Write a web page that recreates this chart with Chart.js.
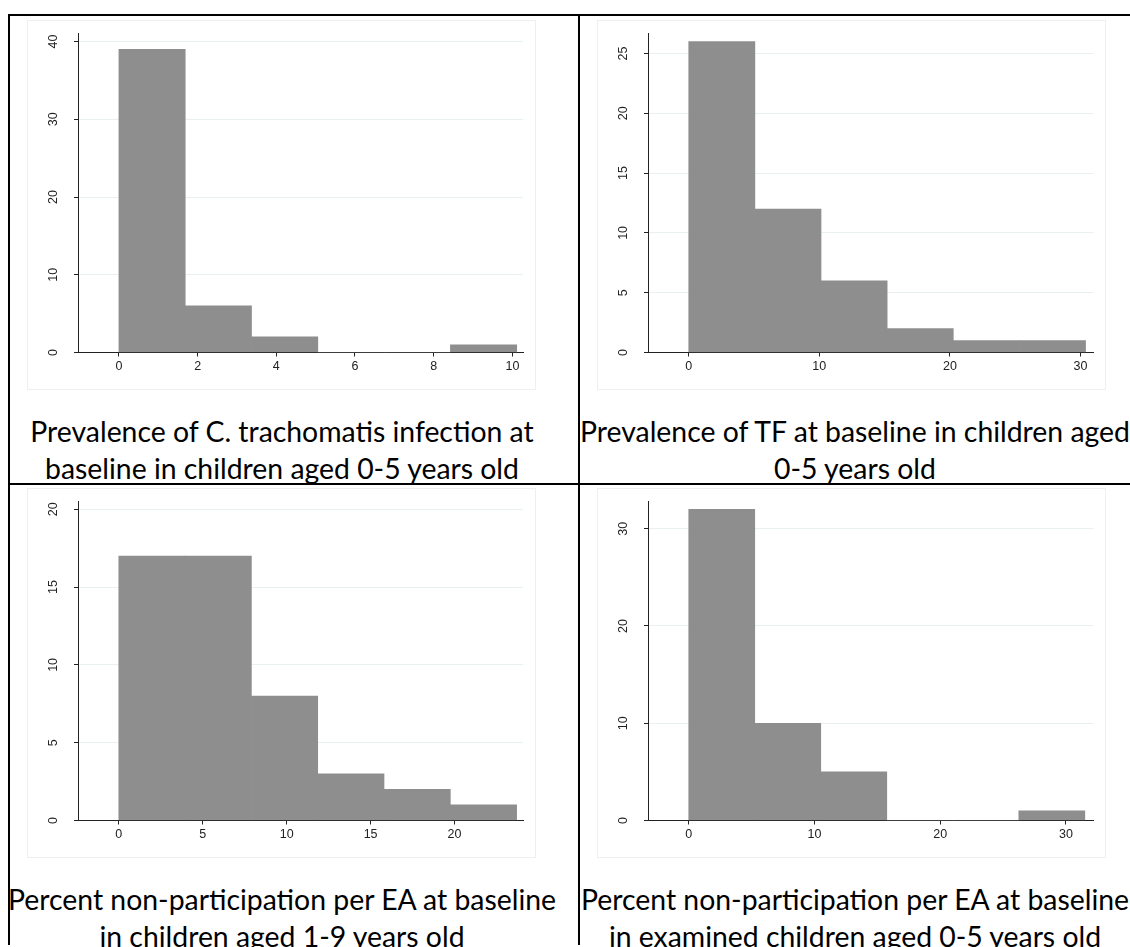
<!DOCTYPE html>
<html>
<head>
<meta charset="utf-8">
<script src="https://cdn.jsdelivr.net/npm/chart.js@4.4.1/dist/chart.umd.min.js"></script>
<style>
  html, body { margin: 0; padding: 0; background: #ffffff; }
  body { width: 1130px; height: 947px; position: relative; overflow: hidden; }
  .line { position: absolute; background: #000; }
  .frame { position: absolute; width: 509px; height: 370px; box-sizing: border-box; border: 1px solid #efefef; }
  canvas { position: absolute; }
  .cap { position: absolute; width: 560px; text-align: center; font-family: Lato, "Open Sans", sans-serif; color: #000; line-height: 37px; white-space: nowrap; }
</style>
</head>
<body>
<div class="line" style="left:8px; top:14px; width:1122px; height:2px;"></div>
<div class="line" style="left:8px; top:483px; width:1122px; height:2px;"></div>
<div class="line" style="left:8px; top:14px; width:2px; height:931px;"></div>
<div class="line" style="left:578px; top:14px; width:2px; height:931px;"></div>

<div class="frame" style="left:27px; top:20px;"></div>
<div class="frame" style="left:597px; top:20px;"></div>
<div class="frame" style="left:27px; top:488px;"></div>
<div class="frame" style="left:597px; top:488px;"></div>

<canvas id="c1" width="509" height="370" style="left:27px; top:20px;"></canvas>
<canvas id="c2" width="509" height="370" style="left:597px; top:20px;"></canvas>
<canvas id="c3" width="509" height="370" style="left:27px; top:488px;"></canvas>
<canvas id="c4" width="509" height="370" style="left:597px; top:488px;"></canvas>

<div class="cap" id="cap1" style="left:2px; top:413px;"></div>
<div class="cap" id="cap2" style="left:575px; top:413px;"></div>
<div class="cap" id="cap3" style="left:2px; top:881px;"></div>
<div class="cap" id="cap4" style="left:575px; top:881px;"></div>

<script>
// ---- Data ----
const c1Edges  = [0, 1.685, 3.37, 5.055, 6.74, 8.425, 10.11];
const c1Counts = [39, 6, 2, 0, 0, 1];
const c1XTicks = [0, 2, 4, 6, 8, 10];
const c1YTicks = [0, 10, 20, 30, 40];

const c2Edges  = [0, 5.065, 10.13, 15.195, 20.26, 25.325, 30.39];
const c2Counts = [26, 12, 6, 2, 1, 1];
const c2XTicks = [0, 10, 20, 30];
const c2YTicks = [0, 5, 10, 15, 20, 25];

const c3Edges  = [0, 3.95, 7.9, 11.85, 15.8, 19.75, 23.7];
const c3Counts = [17, 17, 8, 3, 2, 1];
const c3XTicks = [0, 5, 10, 15, 20];
const c3YTicks = [0, 5, 10, 15, 20];

const c4Edges  = [0, 5.25, 10.5, 15.75, 21, 26.25, 31.5];
const c4Counts = [32, 10, 5, 0, 0, 1];
const c4XTicks = [0, 10, 20, 30];
const c4YTicks = [0, 10, 20, 30];

const captions = [
  ["Prevalence of C. trachomatis infection at", "baseline in children aged 0-5 years old"],
  ["Prevalence of TF at baseline in children aged", "0-5 years old"],
  ["Percent non-participation per EA at baseline", "in children aged 1-9 years old"],
  ["Percent non-participation per EA at baseline", "in examined children aged 0-5 years old"]
];

// ---- Styling ----
const BAR = '#8e8e8e';
const GRID = '#e8f0f2';
const AXIS = '#222222';
const TICKFONT = { family: 'Liberation Sans, Arial, sans-serif', size: 12.5 };

function makeHist(id, edges, counts, xTicks, yTicks, xMin, xMax, yMax) {
  const pts = counts.map((c, i) => ({ x: (edges[i] + edges[i + 1]) / 2, y: c }));
  new Chart(document.getElementById(id), {
    type: 'bar',
    data: { datasets: [{ data: pts, backgroundColor: BAR, borderWidth: 0, barPercentage: 1, categoryPercentage: 1 }] },
    options: {
      responsive: false, animation: false, devicePixelRatio: 1,
      layout: { autoPadding: false, padding: { top: 13.5, right: 13, left: 0, bottom: 0 } },
      plugins: { legend: { display: false }, tooltip: { enabled: false } },
      scales: {
        x: {
          type: 'linear', min: xMin, max: xMax, offset: false,
          afterBuildTicks: s => { s.ticks = xTicks.map(v => ({ value: v })); },
          afterFit: s => { s.height = 37.5; s.paddingLeft = 0; s.paddingRight = 0; },
          grid: { offset: false, drawOnChartArea: false, drawTicks: true, tickLength: 4, tickColor: AXIS, color: AXIS },
          border: { display: true, color: AXIS, width: 1 },
          ticks: { font: TICKFONT, color: AXIS, padding: 3, maxRotation: 0, minRotation: 0, autoSkip: false }
        },
        y: {
          type: 'linear', min: 0, max: yMax,
          afterBuildTicks: s => { s.ticks = yTicks.map(v => ({ value: v })); },
          afterFit: s => { s.width = 51; s.paddingTop = 0; s.paddingBottom = 0; },
          grid: { drawTicks: true, tickLength: 4, tickColor: AXIS,
                  color: c => (c.tick && c.tick.value === 0) ? 'rgba(0,0,0,0)' : GRID },
          border: { display: true, color: AXIS, width: 1 },
          ticks: { font: TICKFONT, color: AXIS, padding: 13.5, crossAlign: 'center', minRotation: 90, maxRotation: 90, autoSkip: false }
        }
      }
    }
  });
}

makeHist('c1', c1Edges, c1Counts, c1XTicks, c1YTicks, -1.04, 10.27, 41.03);
makeHist('c2', c2Edges, c2Counts, c2XTicks, c2YTicks, -3.12, 30.96, 26.67);
makeHist('c3', c3Edges, c3Counts, c3XTicks, c3YTicks, -2.43, 24.08, 20.5);
makeHist('c4', c4Edges, c4Counts, c4XTicks, c4YTicks, -3.24, 32.15, 32.8);

// ---- Captions ----
const mctx = document.createElement('canvas').getContext('2d');
mctx.font = '100px Lato';
const w100 = mctx.measureText(captions[0][0]).width;
const capSize = 100 * 504 / w100;
captions.forEach((lines, i) => {
  const el = document.getElementById('cap' + (i + 1));
  el.style.fontSize = capSize.toFixed(2) + 'px';
  el.innerHTML = '';
  lines.forEach((t, k) => {
    if (k) el.appendChild(document.createElement('br'));
    el.appendChild(document.createTextNode(t));
  });
});
</script>
</body>
</html>
